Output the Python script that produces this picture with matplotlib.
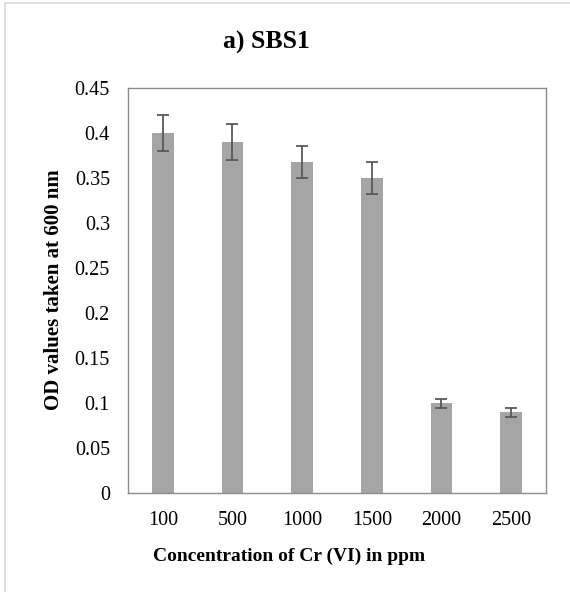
import matplotlib.pyplot as plt
import numpy as np
from matplotlib.patches import Rectangle

categories = ["100", "500", "1000", "1500", "2000", "2500"]
od_values = [0.400, 0.390, 0.368, 0.350, 0.100, 0.090]
od_errors = [0.020, 0.020, 0.018, 0.018, 0.005, 0.005]
y_ticks = [0, 0.05, 0.1, 0.15, 0.2, 0.25, 0.3, 0.35, 0.4, 0.45]

plt.rcParams["font.family"] = ["Liberation Serif", "DejaVu Serif"]

W, H = 570, 592
fig = plt.figure(figsize=(W / 100, H / 100), dpi=100)
fig.patches.append(Rectangle((5 / W, -0.02), 1.2, 1.02 - 3 / H + 0.0, transform=fig.transFigure,
                             fill=False, edgecolor="#d9d9d9", linewidth=1.2))
ax = fig.add_axes([128 / W, 1 - 493 / H, (546 - 128) / W, (493 - 88) / H])

x = np.arange(len(categories))
ax.bar(x, od_values, width=0.31, color="#a5a5a5", zorder=2)
ax.errorbar(x, od_values, yerr=od_errors, fmt="none", ecolor="#595959",
            elinewidth=1.3, capsize=4.5, capthick=1.3, zorder=3)

ax.set_xlim(-0.5, len(categories) - 0.5)
ax.set_ylim(0, 0.45)
ax.set_yticks(y_ticks)
ax.set_yticklabels([f"{t:g}" for t in y_ticks])
ax.set_xticks(x)
ax.set_xticklabels(categories)
ax.tick_params(axis="y", length=0, labelsize=14.5, pad=13)
ax.tick_params(axis="x", length=0, labelsize=14.5, pad=13)
for s in ax.spines.values():
    s.set_color("#8c8c8c")
    s.set_linewidth(1.0)

fig.text(289 / W, 1 - 556 / H, "Concentration of Cr (VI) in ppm", ha="center", va="center",
         fontsize=14, fontweight="bold")
fig.text(54 / W, 1 - 290 / H, "OD values taken at 600 nm", ha="center", va="center",
         rotation=90, fontsize=15, fontweight="bold")
fig.text(266 / W, 1 - 42 / H, "a) SBS1", ha="center", va="center", fontsize=18.5, fontweight="bold")

fig.savefig("out.png", dpi=100)
